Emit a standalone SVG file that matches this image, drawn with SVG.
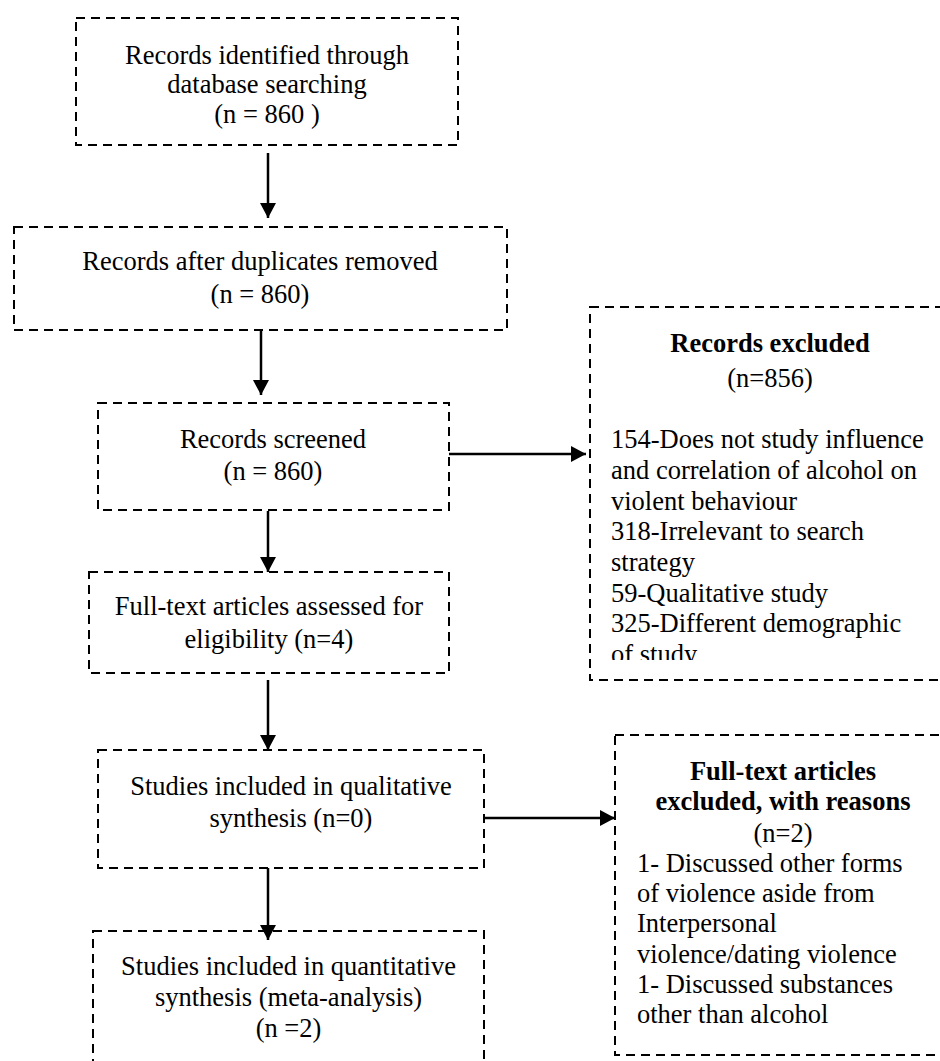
<svg xmlns="http://www.w3.org/2000/svg" width="940" height="1061" viewBox="0 0 940 1061">
<style>
.box{fill:none;stroke:#000;stroke-width:2;stroke-dasharray:9 6}
.t{font-family:"Liberation Serif","Times New Roman",serif;font-size:26.5px;fill:#000}
.c{text-anchor:middle}
.b{font-weight:bold}
.conn{stroke:#000;stroke-width:2.5;fill:none}
</style>
<defs>
<marker id="ah" viewBox="0 0 15 16" refX="15" refY="8" markerWidth="15" markerHeight="16" markerUnits="userSpaceOnUse" orient="auto">
<path d="M0,0 L15,8 L0,16 z" fill="#000"/>
</marker>
<clipPath id="clipA"><rect x="590" y="300" width="350" height="360"/></clipPath>
</defs>
<rect width="940" height="1061" fill="#fff"/>
<g id="n1">
<rect class="box" x="76" y="18" width="382" height="127"/>
<text class="t c" x="267" y="64">Records identified through</text>
<text class="t c" x="267" y="93">database searching</text>
<text class="t c" x="267" y="123">(n = 860  )</text>
</g>
<g id="n2">
<rect class="box" x="14" y="227" width="493" height="103"/>
<text class="t c" x="260" y="270">Records after duplicates removed</text>
<text class="t c" x="260" y="303">(n = 860)</text>
</g>
<g id="n3">
<rect class="box" x="98" y="403" width="351" height="107"/>
<text class="t c" x="273" y="448">Records screened</text>
<text class="t c" x="273" y="480">(n = 860)</text>
</g>
<g id="n4">
<rect class="box" x="89" y="572" width="360" height="101"/>
<text class="t c" x="269" y="615">Full-text articles assessed for</text>
<text class="t c" x="269" y="648">eligibility (n=4)</text>
</g>
<g id="n5">
<rect class="box" x="98" y="750" width="386" height="118"/>
<text class="t c" x="291" y="795">Studies included in qualitative</text>
<text class="t c" x="291" y="827">synthesis (n=0)</text>
</g>
<g id="n6">
<rect class="box" x="93" y="931" width="391" height="150"/>
<text class="t c" x="288.5" y="975">Studies included in quantitative</text>
<text class="t c" x="288.5" y="1006">synthesis (meta-analysis)</text>
<text class="t c" x="288.5" y="1037">(n =2)</text>
</g>
<g id="nA">
<rect class="box" x="590" y="307" width="370" height="373"/>
<text class="t c b" x="770" y="352">Records excluded</text>
<text class="t c" x="770" y="387">(n=856)</text>
<g clip-path="url(#clipA)">
<text class="t" x="611" y="448">154-Does not study influence</text>
<text class="t" x="611" y="479">and correlation of alcohol on</text>
<text class="t" x="611" y="510">violent behaviour</text>
<text class="t" x="611" y="540">318-Irrelevant to search</text>
<text class="t" x="611" y="571">strategy</text>
<text class="t" x="611" y="602">59-Qualitative study</text>
<text class="t" x="611" y="632">325-Different demographic</text>
<text class="t" x="611" y="663">of study</text>
</g>
</g>
<g id="nB">
<rect class="box" x="615" y="735" width="345" height="320"/>
<text class="t c b" x="783" y="780">Full-text articles</text>
<text class="t c b" x="783" y="810">excluded, with reasons</text>
<text class="t c" x="783" y="842">(n=2)</text>
<text class="t" x="637" y="872">1- Discussed other forms</text>
<text class="t" x="637" y="902">of violence aside from</text>
<text class="t" x="637" y="932">Interpersonal</text>
<text class="t" x="637" y="963">violence/dating violence</text>
<text class="t" x="637" y="993">1- Discussed substances</text>
<text class="t" x="637" y="1023">other than alcohol</text>
</g>
<g id="connectors">
<line class="conn" x1="268" y1="153" x2="268" y2="218" marker-end="url(#ah)"/>
<line class="conn" x1="261" y1="330" x2="261" y2="395" marker-end="url(#ah)"/>
<line class="conn" x1="268" y1="511" x2="268" y2="572" marker-end="url(#ah)"/>
<line class="conn" x1="268" y1="680" x2="268" y2="750" marker-end="url(#ah)"/>
<line class="conn" x1="268" y1="868" x2="268" y2="940" marker-end="url(#ah)"/>
<line class="conn" x1="449" y1="454" x2="586" y2="454" marker-end="url(#ah)"/>
<line class="conn" x1="484" y1="818" x2="615" y2="818" marker-end="url(#ah)"/>
</g>
</svg>
